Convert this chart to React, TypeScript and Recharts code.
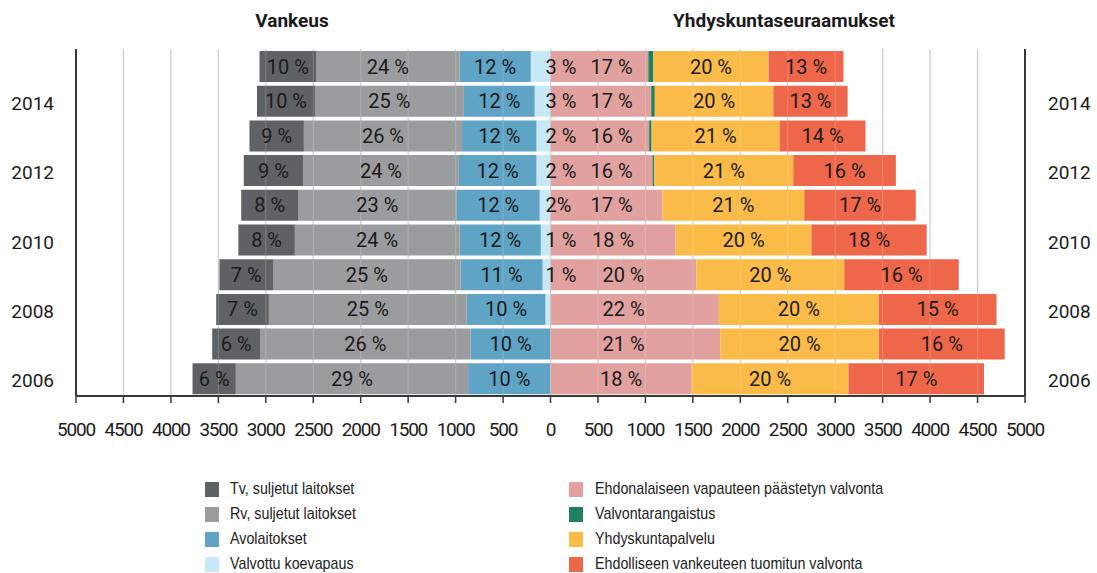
import React from 'react';
import { BarChart, Bar, XAxis, YAxis, CartesianGrid, LabelList } from 'recharts';

// ---- data (2006 → 2015) ----
const years = ['2006', '2007', '2008', '2009', '2010', '2011', '2012', '2013', '2014', '2015'];

// Vankeus (left side, drawn as negative)
const tvSuljetut = [456, 505, 555, 565, 595, 599, 625, 573, 611, 595];
const rvSuljetut = [2448, 2217, 2085, 1977, 1735, 1672, 1641, 1667, 1569, 1512];
const avolaitokset = [868, 843, 829, 864, 857, 874, 818, 784, 746, 751];
const valvottuKoevapaus = [0, 0, 54, 83, 102, 114, 148, 148, 167, 208];

// Yhdyskuntaseuraamukset (right side)
const ehdonalainen = [1488, 1789, 1774, 1538, 1319, 1181, 1076, 1039, 1061, 1031];
const valvontarangaistus = [0, 0, 0, 0, 0, 0, 18, 26, 38, 52];
const yhdyskuntapalvelu = [1652, 1673, 1684, 1557, 1430, 1493, 1464, 1350, 1249, 1216];
const ehdollinen = [1428, 1324, 1242, 1207, 1215, 1175, 1081, 904, 783, 788];

// percentage labels as printed
const tvLabels = ['6 %', '6 %', '7 %', '7 %', '8 %', '8 %', '9 %', '9 %', '10 %', '10 %'];
const rvLabels = ['29 %', '26 %', '25 %', '25 %', '24 %', '23 %', '24 %', '26 %', '25 %', '24 %'];
const avoLabels = ['10 %', '10 %', '10 %', '11 %', '12 %', '12 %', '12 %', '12 %', '12 %', '12 %'];
const valvottuLabels = ['', '', '', '1 %', '1 %', '2%', '2 %', '2 %', '3 %', '3 %'];
const ehdonalainenLabels = ['18 %', '21 %', '22 %', '20 %', '18 %', '17 %', '16 %', '16 %', '17 %', '17 %'];
const yhdLabels = ['20 %', '20 %', '20 %', '20 %', '20 %', '21 %', '21 %', '21 %', '20 %', '20 %'];
const ehdollinenLabels = ['17 %', '16 %', '15 %', '16 %', '18 %', '17 %', '16 %', '14 %', '13 %', '13 %'];

const xTicks = [-5000, -4500, -4000, -3500, -3000, -2500, -2000, -1500, -1000, -500, 0, 500, 1000, 1500, 2000, 2500, 3000, 3500, 4000, 4500, 5000];

const titles = ['Vankeus', 'Yhdyskuntaseuraamukset'];

type Series = {
  key: string;
  name: string;
  color: string;
  values: number[];
  labels: string[] | null;
  negative: boolean;
  labelMode: 'center' | 'nearZero' | 'pink';
};

const series: Series[] = [
  { key: 'valv', name: 'Valvottu koevapaus', color: '#c6e8f7', values: valvottuKoevapaus, labels: valvottuLabels, negative: true, labelMode: 'nearZero' },
  { key: 'avo', name: 'Avolaitokset', color: '#5fa3c5', values: avolaitokset, labels: avoLabels, negative: true, labelMode: 'center' },
  { key: 'rv', name: 'Rv, suljetut laitokset', color: '#9a9c9d', values: rvSuljetut, labels: rvLabels, negative: true, labelMode: 'center' },
  { key: 'tv', name: 'Tv, suljetut laitokset', color: '#5f6264', values: tvSuljetut, labels: tvLabels, negative: true, labelMode: 'center' },
  { key: 'ehd', name: 'Ehdonalaiseen vapauteen päästetyn valvonta', color: '#e0a19f', values: ehdonalainen, labels: ehdonalainenLabels, negative: false, labelMode: 'pink' },
  { key: 'vr', name: 'Valvontarangaistus', color: '#23805f', values: valvontarangaistus, labels: null, negative: false, labelMode: 'center' },
  { key: 'yhd', name: 'Yhdyskuntapalvelu', color: '#fbbb48', values: yhdyskuntapalvelu, labels: yhdLabels, negative: false, labelMode: 'center' },
  { key: 'ehdol', name: 'Ehdolliseen vankeuteen tuomitun valvonta', color: '#ef674a', values: ehdollinen, labels: ehdollinenLabels, negative: false, labelMode: 'center' },
];

const legendLeft = ['tv', 'rv', 'avo', 'valv'];
const legendRight = ['ehd', 'vr', 'yhd', 'ehdol'];

const data = years.map((year, i) => {
  const row: Record<string, any> = { year };
  series.forEach((s) => {
    row[s.key] = s.negative ? -s.values[i] : s.values[i];
    row[s.key + 'L'] = s.labels ? s.labels[i] : '';
  });
  return row;
});

const FONT = 'Roboto, "DejaVu Sans", sans-serif';
const LEGEND_FONT = '"Liberation Sans", Arial, sans-serif';
const TEXT = '#1b1b1b';
const FRAME = '#383838';

const makeLabel = (mode: 'center' | 'nearZero' | 'pink') => (props: any) => {
  const vb = props.viewBox && props.viewBox.width !== undefined ? props.viewBox : props;
  const x = Number(vb.x);
  const y = Number(vb.y);
  const w = Number(vb.width);
  const h = Number(vb.height);
  const value = props.value;
  if (!value) return null;
  const x0 = Math.min(x, x + w);
  const x1 = Math.max(x, x + w);
  const cy = y + h / 2;
  let tx = (x0 + x1) / 2;
  let anchor: 'middle' | 'start' = 'middle';
  if (mode === 'nearZero') {
    tx = x1 - 5;
    anchor = 'start';
  } else if (mode === 'pink') {
    tx = Math.min(Math.max(tx, x0 + 61), x0 + 73);
  }
  return (
    <text
      x={tx}
      y={cy}
      textAnchor={anchor}
      dominantBaseline="central"
      fontFamily={FONT}
      fontSize={20}
      fill={TEXT}
    >
      {value}
    </text>
  );
};

const yearFormatter = (v: any) => (Number(v) % 2 === 0 ? String(v) : '');

export default function App() {
  const byKey: Record<string, Series> = {};
  series.forEach((s) => (byKey[s.key] = s));

  const legendRow = (key: string, i: number, sqLeft: number, textLeft: number) => {
    const s = byKey[key];
    const cy = [490, 515, 540, 565][i];
    return (
      <div key={key}>
        <div
          style={{
            position: 'absolute',
            left: sqLeft,
            top: cy - 8,
            width: 14,
            height: 15,
            background: s.color,
          }}
        />
        <div
          style={{
            position: 'absolute',
            left: textLeft,
            top: cy - 11,
            height: 20,
            lineHeight: '20px',
            fontFamily: LEGEND_FONT,
            fontSize: 17,
            color: '#222',
            whiteSpace: 'nowrap',
            transform: 'scaleX(0.84)',
            transformOrigin: 'left center',
          }}
        >
          {s.name}
        </div>
      </div>
    );
  };

  return (
    <div
      style={{
        position: 'absolute',
        left: 0,
        top: 0,
        width: 1097,
        height: 573,
        background: '#ffffff',
        overflow: 'hidden',
      }}
    >
      <div
        style={{
          position: 'absolute',
          left: 192,
          top: 11,
          width: 200,
          textAlign: 'center',
          fontFamily: FONT,
          fontWeight: 700,
          fontSize: 19,
          lineHeight: '19px',
          color: TEXT,
        }}
      >
        {titles[0]}
      </div>
      <div
        style={{
          position: 'absolute',
          left: 634,
          top: 11,
          width: 300,
          textAlign: 'center',
          fontFamily: FONT,
          fontWeight: 700,
          fontSize: 19,
          lineHeight: '19px',
          color: TEXT,
        }}
      >
        {titles[1]}
      </div>

      <div style={{ position: 'absolute', left: 0, top: 0 }}>
        <BarChart
          width={1097}
          height={573}
          data={data}
          layout="vertical"
          stackOffset="sign"
          barSize={31}
          margin={{ top: 49, right: 0, bottom: 0, left: 0 }}
        >
          <CartesianGrid
            xAxisId="main"
            yAxisId="left"
            horizontal={false}
            stroke="#c4c4c4"
            strokeWidth={1.2}
          />
          <XAxis
            xAxisId="main"
            type="number"
            domain={[-5000, 5000]}
            ticks={xTicks}
            interval={0}
            allowDataOverflow
            tickFormatter={(v: number) => String(Math.abs(v))}
            height={177}
            tickSize={7}
            tickMargin={20}
            axisLine={{ stroke: FRAME, strokeWidth: 2 }}
            tickLine={{ stroke: FRAME, strokeWidth: 1.5 }}
            tick={{ fill: TEXT, fontSize: 19, fontFamily: FONT, letterSpacing: -1.2 }}
          />
          <XAxis
            xAxisId="top"
            orientation="top"
            type="number"
            domain={[-5000, 5000]}
            ticks={xTicks}
            height={0}
            tick={false}
            tickLine={false}
            axisLine={{ stroke: FRAME, strokeWidth: 2 }}
          />
          <YAxis
            yAxisId="left"
            type="category"
            dataKey="year"
            reversed
            width={76}
            interval={0}
            tickFormatter={yearFormatter}
            tickSize={0}
            tickMargin={22}
            tickLine={false}
            axisLine={{ stroke: FRAME, strokeWidth: 2 }}
            tick={{ fill: TEXT, fontSize: 19, fontFamily: FONT, dy: 2 }}
          />
          <YAxis
            yAxisId="right"
            orientation="right"
            type="category"
            dataKey="year"
            reversed
            width={72}
            interval={0}
            tickFormatter={yearFormatter}
            tickSize={0}
            tickMargin={23}
            tickLine={false}
            axisLine={{ stroke: FRAME, strokeWidth: 2 }}
            tick={{ fill: TEXT, fontSize: 19, fontFamily: FONT, dy: 2 }}
          />
          {series.map((s) => (
            <Bar
              key={s.key}
              dataKey={s.key}
              name={s.name}
              stackId="all"
              xAxisId="main"
              yAxisId="left"
              fill={s.color}
              isAnimationActive={false}
            >
              {s.labels ? (
                <LabelList dataKey={s.key + 'L'} content={makeLabel(s.labelMode)} />
              ) : null}
            </Bar>
          ))}
          <CartesianGrid
            xAxisId="main"
            yAxisId="left"
            horizontal={false}
            stroke="#ffffff"
            strokeOpacity={0.16}
            strokeWidth={1.2}
            zIndex={350}
          />
        </BarChart>
      </div>

      {legendLeft.map((k, i) => legendRow(k, i, 205, 230))}
      {legendRight.map((k, i) => legendRow(k, i, 569, 595))}
    </div>
  );
}
